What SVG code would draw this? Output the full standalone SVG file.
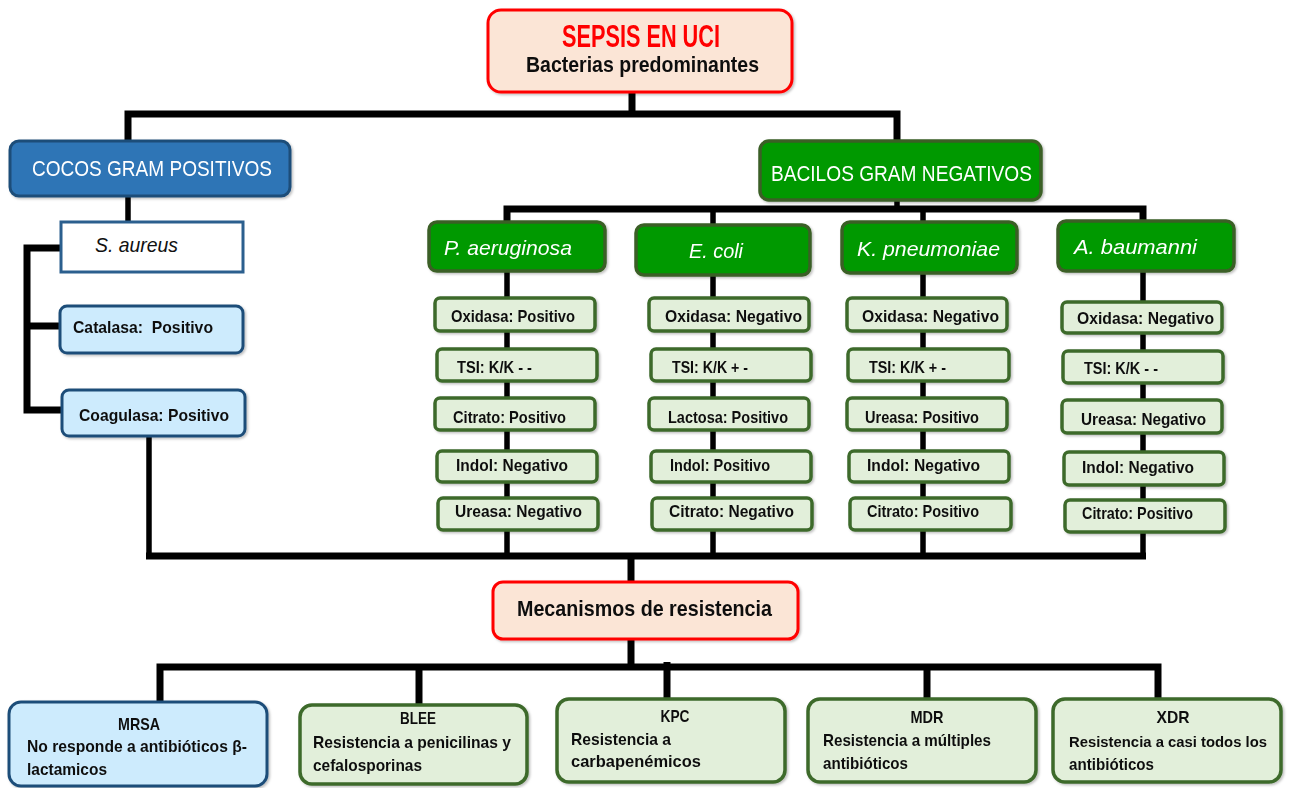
<svg xmlns="http://www.w3.org/2000/svg" width="1293" height="788" viewBox="0 0 1293 788">
<style>
.bg{fill:#ffffff}
.ln{fill:none;stroke:#000;stroke-width:7;stroke-linejoin:miter;stroke-linecap:butt}
.lt{fill:none;stroke:#000;stroke-width:5.5}
.peach{fill:#fbe5d6;stroke:#ff0000;stroke-width:3}
.blueh{fill:#2e75b6;stroke:#1f4e79;stroke-width:3}
.lblue{fill:#cdebfd;stroke:#1f4e79;stroke-width:3}
.white{fill:#ffffff;stroke:#2b5f8e;stroke-width:3}
.greenh{fill:#009900;stroke:#3a5f26;stroke-width:3.5}
.lgreen{fill:#e2efda;stroke:#3d6a2c;stroke-width:3.5}
text{font-family:"Liberation Sans",Arial,sans-serif}
.b{font-weight:bold;fill:#111}
.t16{font-size:17px}
.w{fill:#fff;font-size:22px}
.it{fill:#fff;font-size:21px;font-style:italic}
</style>
<defs>
<filter id="sh" x="-10%" y="-20%" width="130%" height="150%">
<feDropShadow dx="1.5" dy="1.5" stdDeviation="1.2" flood-color="#000" flood-opacity="0.25"/>
</filter>
</defs>
<rect class="bg" x="0" y="0" width="1293" height="788"/>

<g id="connectors">
<path class="ln" d="M632,92 V114"/>
<path class="ln" d="M128,141 V114 H897 V141"/>
<path class="lt" d="M128,196 V222"/>
<path class="ln" d="M61,248 H27 V410 H62"/>
<path class="ln" d="M27,326 H60"/>
<path class="lt" d="M149,436 V556"/>
<path class="ln" d="M146,556 H1146"/>
<path class="lt" d="M897,200 V209"/>
<path class="ln" d="M507,222 V209 H1143 V221"/>
<path class="lt" d="M713,209 V225"/>
<path class="lt" d="M923,209 V222"/>
<path class="lt" d="M507,271 V556"/>
<path class="lt" d="M713,275 V556"/>
<path class="lt" d="M923,273 V556"/>
<path class="lt" d="M1143,271 V556"/>
<path class="ln" d="M631,556 V582"/>
<path class="ln" d="M631,639 V667"/>
<path class="ln" d="M160,702 V667 H1158 V699"/>
<path class="ln" d="M419,667 V705"/>
<path class="ln" d="M667,662 V699"/>
<path class="ln" d="M927,667 V699"/>
</g>

<g id="sepsis" filter="url(#sh)">
<rect class="peach" x="488" y="10" width="304" height="82" rx="13"/>
<text x="562" y="47" font-size="31" font-weight="bold" fill="#ff0000" textLength="158" lengthAdjust="spacingAndGlyphs">SEPSIS EN UCI</text>
<text class="b" x="526" y="72" font-size="22" textLength="233" lengthAdjust="spacingAndGlyphs">Bacterias predominantes</text>
</g>

<g id="cocos" filter="url(#sh)">
<rect class="blueh" x="10" y="141" width="280" height="55" rx="9"/>
<text class="w" x="32" y="176" textLength="240" lengthAdjust="spacingAndGlyphs">COCOS GRAM POSITIVOS</text>
</g>

<g id="saureus">
<rect class="white" x="61" y="222" width="182" height="50"/>
<text x="95" y="252" font-size="21" font-style="italic" fill="#111" textLength="83" lengthAdjust="spacingAndGlyphs">S. aureus</text>
</g>

<g id="catalasa" filter="url(#sh)">
<rect class="lblue" x="60" y="306" width="183" height="47" rx="7"/>
<text class="b t16" x="73" y="333" textLength="140" lengthAdjust="spacingAndGlyphs">Catalasa:&#160; Positivo</text>
</g>

<g id="coagulasa" filter="url(#sh)">
<rect class="lblue" x="62" y="390" width="183" height="46" rx="7"/>
<text class="b t16" x="79" y="421" textLength="150" lengthAdjust="spacingAndGlyphs">Coagulasa: Positivo</text>
</g>

<g id="bacilos" filter="url(#sh)">
<rect class="greenh" x="760" y="141" width="281" height="59" rx="9"/>
<text class="w" x="771" y="181" textLength="261" lengthAdjust="spacingAndGlyphs">BACILOS GRAM NEGATIVOS</text>
</g>

<g id="paeruginosa" filter="url(#sh)">
<rect class="greenh" x="429" y="222" width="176" height="49" rx="8"/>
<text class="it" x="444" y="255" textLength="128" lengthAdjust="spacingAndGlyphs">P. aeruginosa</text>
</g>
<g id="ecoli" filter="url(#sh)">
<rect class="greenh" x="636" y="225" width="174" height="50" rx="8"/>
<text class="it" x="689" y="258" textLength="54" lengthAdjust="spacingAndGlyphs">E. coli</text>
</g>
<g id="kpneumoniae" filter="url(#sh)">
<rect class="greenh" x="842" y="222" width="175" height="51" rx="8"/>
<text class="it" x="857" y="256" textLength="143" lengthAdjust="spacingAndGlyphs">K. pneumoniae</text>
</g>
<g id="abaumanni" filter="url(#sh)">
<rect class="greenh" x="1058" y="221" width="176" height="50" rx="8"/>
<text class="it" x="1074" y="254" textLength="123" lengthAdjust="spacingAndGlyphs">A. baumanni</text>
</g>

<g id="pa-tests" filter="url(#sh)">
<g id="pa-oxidasa"><rect class="lgreen" x="435" y="298" width="160" height="33" rx="5"/><text class="b t16" x="451" y="322" textLength="124" lengthAdjust="spacingAndGlyphs">Oxidasa: Positivo</text></g>
<g id="pa-tsi"><rect class="lgreen" x="437" y="349" width="160" height="32" rx="5"/><text class="b t16" x="457" y="373" textLength="75" lengthAdjust="spacingAndGlyphs">TSI: K/K - -</text></g>
<g id="pa-citrato"><rect class="lgreen" x="435" y="398" width="160" height="32" rx="5"/><text class="b t16" x="453" y="423" textLength="113" lengthAdjust="spacingAndGlyphs">Citrato: Positivo</text></g>
<g id="pa-indol"><rect class="lgreen" x="437" y="451" width="160" height="31" rx="5"/><text class="b t16" x="456" y="471" textLength="112" lengthAdjust="spacingAndGlyphs">Indol: Negativo</text></g>
<g id="pa-ureasa"><rect class="lgreen" x="438" y="498" width="160" height="32" rx="5"/><text class="b t16" x="455" y="517" textLength="127" lengthAdjust="spacingAndGlyphs">Ureasa: Negativo</text></g>
</g>

<g id="ec-tests" filter="url(#sh)">
<g id="ec-oxidasa"><rect class="lgreen" x="649" y="298" width="160" height="33" rx="5"/><text class="b t16" x="665" y="322" textLength="137" lengthAdjust="spacingAndGlyphs">Oxidasa: Negativo</text></g>
<g id="ec-tsi"><rect class="lgreen" x="651" y="349" width="160" height="32" rx="5"/><text class="b t16" x="672" y="373" textLength="76" lengthAdjust="spacingAndGlyphs">TSI: K/K + -</text></g>
<g id="ec-lactosa"><rect class="lgreen" x="649" y="398" width="160" height="32" rx="5"/><text class="b t16" x="668" y="423" textLength="120" lengthAdjust="spacingAndGlyphs">Lactosa: Positivo</text></g>
<g id="ec-indol"><rect class="lgreen" x="651" y="451" width="160" height="31" rx="5"/><text class="b t16" x="670" y="471" textLength="100" lengthAdjust="spacingAndGlyphs">Indol: Positivo</text></g>
<g id="ec-citrato"><rect class="lgreen" x="652" y="498" width="160" height="32" rx="5"/><text class="b t16" x="669" y="517" textLength="125" lengthAdjust="spacingAndGlyphs">Citrato: Negativo</text></g>
</g>

<g id="kp-tests" filter="url(#sh)">
<g id="kp-oxidasa"><rect class="lgreen" x="847" y="298" width="160" height="33" rx="5"/><text class="b t16" x="862" y="322" textLength="137" lengthAdjust="spacingAndGlyphs">Oxidasa: Negativo</text></g>
<g id="kp-tsi"><rect class="lgreen" x="848" y="349" width="161" height="32" rx="5"/><text class="b t16" x="869" y="373" textLength="77" lengthAdjust="spacingAndGlyphs">TSI: K/K + -</text></g>
<g id="kp-ureasa"><rect class="lgreen" x="847" y="398" width="160" height="32" rx="5"/><text class="b t16" x="865" y="423" textLength="114" lengthAdjust="spacingAndGlyphs">Ureasa: Positivo</text></g>
<g id="kp-indol"><rect class="lgreen" x="849" y="451" width="160" height="31" rx="5"/><text class="b t16" x="867" y="471" textLength="113" lengthAdjust="spacingAndGlyphs">Indol: Negativo</text></g>
<g id="kp-citrato"><rect class="lgreen" x="850" y="498" width="161" height="32" rx="5"/><text class="b t16" x="867" y="517" textLength="112" lengthAdjust="spacingAndGlyphs">Citrato: Positivo</text></g>
</g>

<g id="ab-tests" filter="url(#sh)">
<g id="ab-oxidasa"><rect class="lgreen" x="1062" y="302" width="160" height="31" rx="5"/><text class="b t16" x="1077" y="324" textLength="137" lengthAdjust="spacingAndGlyphs">Oxidasa: Negativo</text></g>
<g id="ab-tsi"><rect class="lgreen" x="1063" y="351" width="160" height="32" rx="5"/><text class="b t16" x="1084" y="374" textLength="74" lengthAdjust="spacingAndGlyphs">TSI: K/K - -</text></g>
<g id="ab-ureasa"><rect class="lgreen" x="1062" y="400" width="160" height="33" rx="5"/><text class="b t16" x="1081" y="425" textLength="125" lengthAdjust="spacingAndGlyphs">Ureasa: Negativo</text></g>
<g id="ab-indol"><rect class="lgreen" x="1064" y="452" width="160" height="33" rx="5"/><text class="b t16" x="1082" y="473" textLength="112" lengthAdjust="spacingAndGlyphs">Indol: Negativo</text></g>
<g id="ab-citrato"><rect class="lgreen" x="1065" y="500" width="160" height="32" rx="5"/><text class="b t16" x="1082" y="519" textLength="111" lengthAdjust="spacingAndGlyphs">Citrato: Positivo</text></g>
</g>

<g id="mecanismos" filter="url(#sh)">
<rect class="peach" x="493" y="582" width="305" height="57" rx="10"/>
<text class="b" x="517" y="616" font-size="22" textLength="255" lengthAdjust="spacingAndGlyphs">Mecanismos de resistencia</text>
</g>

<g id="mrsa" filter="url(#sh)">
<rect class="lblue" x="9" y="702" width="258" height="84" rx="12"/>
<text class="b t16" x="139" y="730" text-anchor="middle" textLength="42" lengthAdjust="spacingAndGlyphs">MRSA</text>
<text class="b t16" x="27" y="752" textLength="220" lengthAdjust="spacingAndGlyphs">No responde a antibióticos β-</text>
<text class="b t16" x="27" y="775" textLength="80" lengthAdjust="spacingAndGlyphs">lactamicos</text>
</g>

<g id="blee" filter="url(#sh)">
<rect class="lgreen" x="300" y="705" width="227" height="79" rx="12"/>
<text class="b t16" x="418" y="724" text-anchor="middle" textLength="36" lengthAdjust="spacingAndGlyphs">BLEE</text>
<text class="b t16" x="313" y="748" textLength="198" lengthAdjust="spacingAndGlyphs">Resistencia a penicilinas y</text>
<text class="b t16" x="313" y="771" textLength="109" lengthAdjust="spacingAndGlyphs">cefalosporinas</text>
</g>

<g id="kpc" filter="url(#sh)">
<rect class="lgreen" x="557" y="699" width="228" height="83" rx="12"/>
<text class="b t16" x="675" y="722" text-anchor="middle" textLength="29" lengthAdjust="spacingAndGlyphs">KPC</text>
<text class="b t16" x="571" y="745" textLength="100" lengthAdjust="spacingAndGlyphs">Resistencia a</text>
<text class="b t16" x="571" y="767" textLength="130" lengthAdjust="spacingAndGlyphs">carbapenémicos</text>
</g>

<g id="mdr" filter="url(#sh)">
<rect class="lgreen" x="808" y="699" width="228" height="83" rx="12"/>
<text class="b t16" x="927" y="723" text-anchor="middle" textLength="33" lengthAdjust="spacingAndGlyphs">MDR</text>
<text class="b t16" x="823" y="746" textLength="168" lengthAdjust="spacingAndGlyphs">Resistencia a múltiples</text>
<text class="b t16" x="823" y="769" textLength="85" lengthAdjust="spacingAndGlyphs">antibióticos</text>
</g>

<g id="xdr" filter="url(#sh)">
<rect class="lgreen" x="1053" y="699" width="228" height="83" rx="12"/>
<text class="b t16" x="1173" y="723" text-anchor="middle" textLength="33" lengthAdjust="spacingAndGlyphs">XDR</text>
<text class="b" x="1069" y="747" font-size="15.5" textLength="198" lengthAdjust="spacingAndGlyphs">Resistencia a casi todos los</text>
<text class="b t16" x="1069" y="770" textLength="85" lengthAdjust="spacingAndGlyphs">antibióticos</text>
</g>
</svg>
